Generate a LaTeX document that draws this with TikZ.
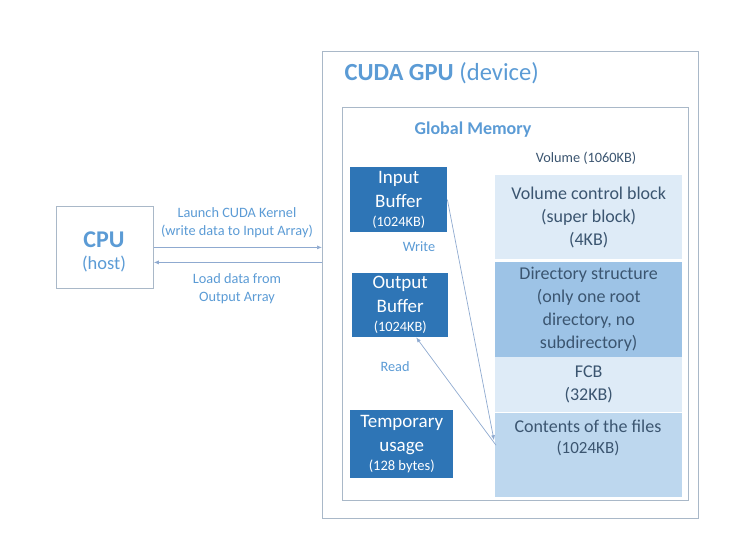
\documentclass[tikz,border=0pt]{standalone}
\usepackage{fontspec}
\setmainfont{Carlito}
\usetikzlibrary{arrows.meta}

\definecolor{darkbox}{HTML}{2E75B6}
\definecolor{midbox}{HTML}{9DC3E6}
\definecolor{lightbox}{HTML}{DEEBF7}
\definecolor{paleblue}{HTML}{BDD7EE}
\definecolor{labelblue}{HTML}{5B9BD5}
\definecolor{slate}{HTML}{3B5570}
\definecolor{frame}{HTML}{A9B8C8}
\definecolor{wire}{HTML}{8FAAD0}

\newcommand{\fs}[1]{\fontsize{#1}{#1}\selectfont}

\tikzset{
  outline/.style={draw=frame, line width=0.8pt, inner sep=0pt},
  buffer/.style={fill=darkbox, text=white, align=center, inner sep=0pt,
    font=\fontsize{19}{24}\selectfont},
  volblock/.style={fill=#1, text=slate, align=center, inner sep=0pt,
    minimum width=187pt, font=\fontsize{18}{23}\selectfont},
  note/.style={text=labelblue, align=center, font=\fontsize{14.3}{18}\selectfont},
  wirearrow/.style={draw=wire, line width=0.7pt, -{Latex[length=5pt,width=4pt]}}
}

\begin{document}
\begin{tikzpicture}[x=1pt, y=-1pt]
    \useasboundingbox (0,0) rectangle (748,550);

    % Host
    \node (cpu) [outline, minimum width=97pt, minimum height=82pt, anchor=north west] at (56,206) {};
    \node at (104,240) [text=labelblue, font=\bfseries\fs{24}] {CPU};
    \node at (104,264) [text=labelblue, font=\fs{18.5}] {(host)};

    % Device
    \node (gpu) [outline, minimum width=376pt, minimum height=467pt, anchor=north west] at (322,51) {};
    \node at (341,73) [anchor=west, text=labelblue, font=\fs{24.6}] {\textbf{CUDA GPU} (device)};
    \node (gmem) [outline, minimum width=346pt, minimum height=393pt, anchor=north west] at (342,107) {};
    \node at (473,130) [text=labelblue, font=\bfseries\fs{18}] {Global Memory};

    % Buffers
    \node (inbuf) [buffer, minimum width=97pt, minimum height=65pt, anchor=north west] at (350,167)
        {Input\\Buffer\\[-5pt]{\fs{14.3}(1024KB)}};
    \node (outbuf) [buffer, minimum width=96pt, minimum height=64pt, anchor=north west] at (352,273)
        {Output\\Buffer\\[-5pt]{\fs{14.3}(1024KB)}};
    \node (tmp) [buffer, minimum width=103pt, minimum height=68pt, anchor=north west] at (350,410)
        {Temporary\\usage\\[-5pt]{\fs{14.5}(128 bytes)}};

    % Volume
    \node at (586,158) [text=slate, font=\fs{14.3}] {Volume (1060KB)};
    \node (vcb) [volblock=lightbox, minimum height=84pt, anchor=north west] at (495,175)
        {Volume control block\\(super block)\\(4KB)};
    \node (dir) [volblock=midbox, minimum height=95pt, anchor=north west] at (495,262)
        {Directory structure\\(only one root\\directory, no\\subdirectory)};
    \node (fcb) [volblock=lightbox, minimum height=55pt, anchor=north west] at (495,357)
        {FCB\\(32KB)};
    \node (cont) [volblock=paleblue, minimum height=84pt, anchor=north west] at (495,413) {};
    \node at (588,438) [text=slate, align=center, font=\fontsize{18}{21}\selectfont]
        {Contents of the files\\{\fs{17}(1024KB)}};

    % Host <-> device
    \draw[wirearrow] (cpu.east) -- (cpu.east -| gpu.west);
    \draw[wirearrow] ([yshift=-15pt]cpu.east -| gpu.west) -- ([yshift=-15pt]cpu.east);
    \node at (237,223) [note] {Launch CUDA Kernel\\(write data to Input Array)};
    \node at (237,289) [note] {Load data from\\Output Array};

    % Buffer <-> files
    \draw[wirearrow] (inbuf.east) -- ([yshift=15pt,xshift=-1pt]cont.west);
    \draw[wirearrow] ([yshift=10pt,xshift=1pt]cont.west) -- ([xshift=16pt]outbuf.south);
    \node at (419,247) [note] {Write};
    \node at (395,367) [note] {Read};
\end{tikzpicture}
\end{document}
